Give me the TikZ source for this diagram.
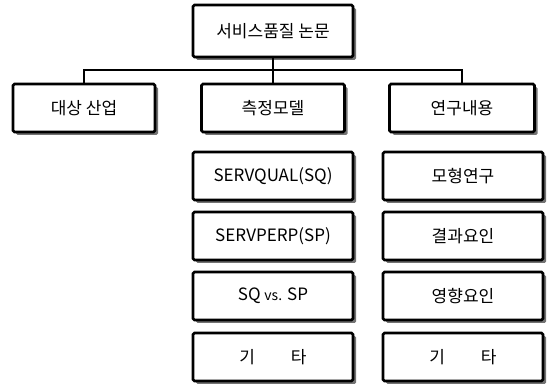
\documentclass[tikz,border=0pt]{standalone}
\usepackage{fontspec}
\setmainfont{Noto Sans CJK KR}
\usetikzlibrary{shadows}
\begin{document}
\begin{tikzpicture}[x=1pt,y=-1pt,
  box/.style={draw=black, line width=2.8pt, fill=white, rounded corners=1.5pt,
    minimum height=48pt, inner sep=0pt, font=\fontsize{17}{19}\selectfont,
    drop shadow={shadow xshift=3pt, shadow yshift=-3pt, fill=black!55, opacity=1}},
  conn/.style={draw=black, line width=1.1pt}]
\useasboundingbox (0,0) rectangle (552,387);
\node[box, minimum width=160pt, minimum height=52pt] (top) at (273,31) {서비스품질 논문};
\node[box, minimum width=142pt] (ind) at (84,108) {대상 산업};
\node[box, minimum width=143pt] (model) at (273,108) {측정모델};
\node[box, minimum width=145pt] (cont) at (462,108) {연구내용};
\coordinate (bus) at (273,70);
\draw[conn] (top.south) -- (model.north);
\draw[conn] (ind.north) |- (bus) -| (cont.north);
\node[box, minimum width=160pt] (m1) at (273,176) {SERVQUAL(SQ)};
\node[box, minimum width=160pt] (m2) at (273,236) {SERVPERP(SP)};
\node[box, minimum width=160pt] (m3) at (273,296) {SQ {\fontsize{14}{16}\selectfont vs.} SP};
\node[box, minimum width=160pt] (m4) at (273,357) {기\hspace{36pt}타};
\node[box, minimum width=160pt] (r1) at (463,176) {모형연구};
\node[box, minimum width=160pt] (r2) at (463,236) {결과요인};
\node[box, minimum width=160pt] (r3) at (463,296) {영향요인};
\node[box, minimum width=160pt] (r4) at (463,357) {기\hspace{36pt}타};
\end{tikzpicture}
\end{document}
